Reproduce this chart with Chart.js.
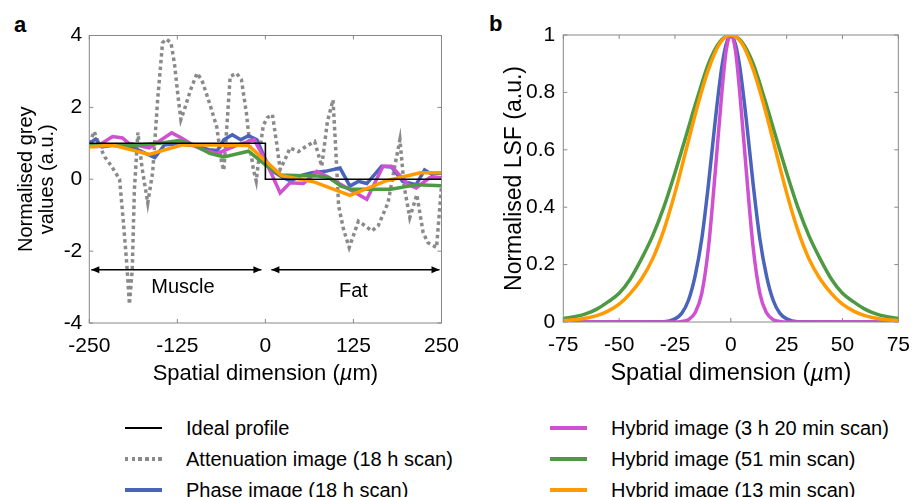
<!DOCTYPE html>
<html>
<head>
<meta charset="utf-8">
<script src="https://cdn.jsdelivr.net/npm/chart.js@4.4.0/dist/chart.umd.min.js"></script>
<style>
body { margin:0; width:921px; height:497px; overflow:hidden; background:#fff; position:relative;
  font-family:"Liberation Sans", Arial, sans-serif; color:#000; }
canvas { position:absolute; top:0; }
#ca { left:0; }
#cb { left:460px; }
.tag { position:absolute; font-weight:bold; font-size:22px; line-height:22px; }
.key { position:absolute; height:22px; line-height:22px; font-size:20px; white-space:nowrap; }
.key i { position:absolute; left:0; top:9px; width:37px; height:4px; }
.key span { position:absolute; left:61px; top:0; }
</style>
</head>
<body>
<div class="tag" style="left:14px;top:14px">a</div>
<div class="tag" style="left:489px;top:13px">b</div>
<canvas id="ca" width="470" height="395"></canvas>
<canvas id="cb" width="461" height="395"></canvas>
<div id="legend"></div>
<script>
// ---- panel a : profiles across the muscle / fat edge
const idealX = [-250, 0, 0, 250];
const idealY = [1, 1, 0, 0];

const attX = [-250, -243, -236, -228, -218, -207, -202, -197, -193, -189, -186, -181, -175, -167, -160, -153, -146, -141, -134, -129, -124, -120, -115, -106, -97, -90, -79, -69, -62, -59, -55, -50, -41, -34, -27, -22, -17, -13, -8, -3, 3, 10, 16, 21, 29, 35, 47, 58, 70, 80, 88, 96, 100, 104, 111, 119, 132, 142, 151, 160, 174, 184, 191, 197, 205, 215, 224, 231, 243, 250];
const attY = [1.0, 1.33, 0.95, 0.62, 0.35, 0.0, -1.1, -2.3, -3.48, -2.5, -0.3, 1.3, 0.3, -0.66, 0.2, 2.2, 3.8, 3.9, 3.8, 3.2, 2.3, 1.66, 1.94, 2.5, 2.95, 2.75, 2.1, 1.45, 0.45, 0.25, 1.38, 2.86, 2.95, 2.77, 1.85, 0.92, 0.27, -0.05, 0.8, 1.5, 1.72, 1.8, 1.0, 0.27, 0.6, 0.87, 0.77, 0.92, 1.05, 0.36, 1.6, 2.21, 0.8, -0.75, -1.4, -1.9, -1.17, -1.3, -1.44, -1.3, -0.66, 0.4, 1.1, -0.2, -1.07, -0.43, -1.49, -1.77, -1.9, -0.19];

const phaseX = [-250, -241, -232, -215, -200, -185, -157, -143, -120, -100, -80, -68, -59, -47, -35, -24, -12, 0, 12, 24, 36, 50, 66, 85, 106, 120, 132, 144, 165, 179, 195, 214, 226, 236, 250];
const phaseY = [1.0, 1.12, 0.9, 0.95, 0.92, 0.85, 0.6, 0.96, 0.98, 0.93, 0.82, 0.8, 1.1, 1.24, 1.1, 1.21, 1.1, 0.55, 0.2, 0.06, -0.05, 0.1, 0.18, 0.22, 0.31, -0.19, -0.06, -0.12, 0.36, 0.34, -0.06, -0.15, 0.26, 0.14, 0.17];

const hyb1X = [-250, -239, -217, -203, -194, -165, -133, -119, -100, -86, -68, -40, -16, -2, 7, 21, 35, 54, 73, 85, 144, 167, 179, 203, 214, 233, 250];
const hyb1Y = [0.92, 0.91, 1.19, 1.15, 1.0, 0.87, 1.29, 1.15, 0.92, 0.8, 0.72, 0.95, 1.1, 0.6, 0.22, -0.38, -0.1, -0.12, 0.22, 0.1, -0.56, 0.36, 0.36, -0.15, -0.24, 0.04, 0.04];

const hyb2X = [-250, -200, -180, -150, -123, -100, -79, -59, -24, 0, 21, 54, 75, 90, 108, 122, 178, 216, 250];
const hyb2Y = [0.95, 0.93, 0.95, 1.0, 1.08, 0.95, 0.72, 0.62, 0.78, 0.4, 0.12, 0.1, 0.09, 0.05, -0.2, -0.28, -0.28, -0.15, -0.18];

const hyb3X = [-250, -217, -165, -118, -71, -24, 23, 70, 120, 172, 220, 250];
const hyb3Y = [0.9, 0.95, 0.69, 0.96, 0.95, 0.94, 0.1, -0.08, -0.45, -0.04, 0.18, 0.18];

const regionNames = ['Muscle', 'Fat'];
const regionFrom = [-250, 0];
const regionTo = [0, 250];
const regionLabelX = [-117, 125];
const regionLabelY = [-3.02, -3.13];
const arrowLevel = -2.52;

// ---- panel b : line spread functions
const wideX = [-75, -70, -65, -60, -55, -50, -45, -40, -35, -30, -25, -20, -15, -10, -5, 0, 5, 10, 15, 20, 25, 30, 35, 40, 45, 50, 55, 60, 65, 70, 75];
const lsfHyb2 = [0.012, 0.018, 0.028, 0.045, 0.07, 0.1, 0.15, 0.22, 0.3, 0.4, 0.52, 0.65, 0.78, 0.9, 0.975, 1, 0.975, 0.9, 0.78, 0.65, 0.52, 0.4, 0.3, 0.22, 0.15, 0.1, 0.07, 0.045, 0.028, 0.018, 0.012];
const lsfHyb3 = [0.005, 0.008, 0.013, 0.022, 0.038, 0.062, 0.1, 0.15, 0.22, 0.32, 0.45, 0.6, 0.75, 0.88, 0.97, 1, 0.97, 0.88, 0.75, 0.6, 0.45, 0.32, 0.22, 0.15, 0.1, 0.062, 0.038, 0.022, 0.013, 0.008, 0.005];
const narrowX = [-75, -30, -25, -22, -19, -16, -13, -10, -7, -4, -2, 0, 2, 4, 7, 10, 13, 16, 19, 22, 25, 30, 75];
const lsfPhase = [0, 0.001, 0.011, 0.03, 0.075, 0.16, 0.29, 0.48, 0.7, 0.89, 0.97, 1, 0.97, 0.89, 0.7, 0.48, 0.29, 0.16, 0.075, 0.03, 0.011, 0.001, 0];
const lsfHyb1 = [0, 0, 0, 0.002, 0.008, 0.032, 0.1, 0.26, 0.52, 0.8, 0.95, 1, 0.95, 0.8, 0.52, 0.26, 0.1, 0.032, 0.008, 0.002, 0, 0, 0];

// ---- legend
const legendNames = ['Ideal profile', 'Attenuation image (18 h scan)', 'Phase image (18 h scan)',
  'Hybrid image (3 h 20 min scan)', 'Hybrid image (51 min scan)', 'Hybrid image (13 min scan)'];

const C = { ideal:'#000000', att:'#8a8a8a', phase:'#4a64bb', hyb1:'#cf50d0', hyb2:'#4d9a43', hyb3:'#ff9b00' };
const legendColors = [C.ideal, C.att, C.phase, C.hyb1, C.hyb2, C.hyb3];

const FONT = '"Liberation Sans", Arial, sans-serif';
Chart.defaults.font.family = FONT;
Chart.defaults.color = '#000';

function pts(xs, ys) { return xs.map((x, i) => ({ x: x, y: ys[i] })); }
function line(data, color, width, order, extra) {
  return Object.assign({ data: data, showLine: true, borderColor: color, borderWidth: width,
    pointRadius: 0, fill: false, order: order }, extra || {});
}

const framePlugin = {
  id: 'frame',
  beforeDatasetsDraw(chart) {
    const { ctx, chartArea: a, scales: { x, y } } = chart;
    ctx.save();
    ctx.strokeStyle = '#888';
    ctx.lineWidth = 1;
    ctx.strokeRect(a.left, a.top, a.right - a.left, a.bottom - a.top);
    ctx.beginPath();
    x.ticks.forEach(t => {
      const p = x.getPixelForValue(t.value);
      ctx.moveTo(p, a.bottom); ctx.lineTo(p, a.bottom - 4);
      ctx.moveTo(p, a.top); ctx.lineTo(p, a.top + 4);
    });
    y.ticks.forEach(t => {
      const p = y.getPixelForValue(t.value);
      ctx.moveTo(a.left, p); ctx.lineTo(a.left + 4, p);
      ctx.moveTo(a.right, p); ctx.lineTo(a.right - 4, p);
    });
    ctx.stroke();
    ctx.restore();
  },
  // x title with an italic mu, like the original figure
  afterDraw(chart, args, opts) {
    const { ctx, chartArea: a } = chart;
    const parts = ['Spatial dimension (', 'µ', 'm)'];
    const fonts = [opts.size + 'px ' + FONT, 'italic ' + opts.size + 'px ' + FONT, opts.size + 'px ' + FONT];
    ctx.save();
    ctx.fillStyle = '#000'; ctx.textBaseline = 'middle'; ctx.textAlign = 'left';
    const w = parts.map((p, i) => { ctx.font = fonts[i]; return ctx.measureText(p).width; });
    let px = (a.left + a.right) / 2 - (w[0] + w[1] + w[2]) / 2;
    parts.forEach((p, i) => { ctx.font = fonts[i]; ctx.fillText(p, px, a.bottom + opts.gap); px += w[i]; });
    ctx.restore();
  }
};

const regionPlugin = {
  id: 'regions',
  afterDatasetsDraw(chart) {
    const { ctx, scales: { x, y } } = chart;
    const py = y.getPixelForValue(arrowLevel);
    ctx.save();
    ctx.strokeStyle = '#000'; ctx.fillStyle = '#000'; ctx.lineWidth = 1.5;
    regionNames.forEach((name, i) => {
      const x1 = x.getPixelForValue(regionFrom[i]) + 2;
      const x2 = x.getPixelForValue(regionTo[i]) - (i === 0 ? 4 : 2);
      const a1 = i === 0 ? x1 : x1 + 4;
      ctx.beginPath(); ctx.moveTo(a1, py); ctx.lineTo(x2, py); ctx.stroke();
      [[a1, 1], [x2, -1]].forEach(([ax, d]) => {
        ctx.beginPath(); ctx.moveTo(ax, py); ctx.lineTo(ax + d * 8, py - 3.5);
        ctx.lineTo(ax + d * 8, py + 3.5); ctx.closePath(); ctx.fill();
      });
      ctx.font = '20px ' + FONT;
      ctx.textAlign = 'center'; ctx.textBaseline = 'middle';
      ctx.fillText(name, x.getPixelForValue(regionLabelX[i]), y.getPixelForValue(regionLabelY[i]));
    });
    ctx.restore();
  }
};

function axisOpts(min, max, step, pad, size, fit) {
  return { type: 'linear', min: min, max: max,
    ticks: { stepSize: step, padding: pad, maxRotation: 0, color: '#000', font: { size: size },
      callback: v => String(parseFloat(v.toFixed(2))) },
    grid: { display: false, drawTicks: false }, border: { display: false }, afterFit: fit };
}

// panel a
const ax = axisOpts(-250, 250, 125, 11, 21, s => { s.height = 72; });
const ay = axisOpts(-4, 4, 2, 7, 21, s => { s.width = 89.3; });
ay.title = { display: true, text: ['Normalised grey', 'values (a.u.)'], color: '#000', font: { size: 20, lineHeight: 1.05 }, padding: { top: 15.5, bottom: 0 } };

new Chart(document.getElementById('ca'), {
  type: 'scatter',
  data: { datasets: [
    line(pts(idealX, idealY), C.ideal, 1.6, 0),
    line(pts(hyb3X, hyb3Y), C.hyb3, 3.5, 1),
    line(pts(hyb2X, hyb2Y), C.hyb2, 3.5, 2),
    line(pts(hyb1X, hyb1Y), C.hyb1, 3.5, 3),
    line(pts(phaseX, phaseY), C.phase, 3.5, 4),
    line(pts(attX, attY), C.att, 3.5, 5, { borderDash: [3.5, 3.2] })
  ] },
  options: {
    responsive: false, animation: false,
    layout: { padding: { top: 35.5, right: 26.7, left: 0, bottom: 0 } },
    plugins: { legend: { display: false }, tooltip: { enabled: false }, frame: { size: 22, gap: 51 } },
    scales: { x: ax, y: ay }
  },
  plugins: [framePlugin, regionPlugin]
});

// panel b
const bx = axisOpts(-75, 75, 25, 11, 21, s => { s.height = 73; });
const by = axisOpts(0, 1, 0.2, 8, 21, s => { s.width = 103.3; });
by.title = { display: true, text: 'Normalised LSF (a.u.)', color: '#000', font: { size: 23, lineHeight: 1.2 }, padding: { top: 41, bottom: 0 } };

const smooth = { cubicInterpolationMode: 'monotone' };
new Chart(document.getElementById('cb'), {
  type: 'scatter',
  data: { datasets: [
    line(pts(wideX, lsfHyb3), C.hyb3, 3.5, 1, smooth),
    line(pts(narrowX, lsfHyb1), C.hyb1, 3.5, 2, smooth),
    line(pts(wideX, lsfHyb2), C.hyb2, 3.5, 3, smooth),
    line(pts(narrowX, lsfPhase), C.phase, 3.5, 4, smooth)
  ] },
  options: {
    responsive: false, animation: false,
    layout: { padding: { top: 35, right: 13, left: 0, bottom: 0 } },
    plugins: { legend: { display: false }, tooltip: { enabled: false }, frame: { size: 23.5, gap: 52 } },
    scales: { x: bx, y: by }
  },
  plugins: [framePlugin]
});

// legend below the panels
const legend = document.getElementById('legend');
const colLeft = [125, 550];
const rowTop = [417, 448, 479];
legendNames.forEach((name, i) => {
  const d = document.createElement('div');
  d.className = 'key';
  d.style.left = colLeft[Math.floor(i / 3)] + 'px';
  d.style.top = rowTop[i % 3] + 'px';
  const mark = document.createElement('i');
  if (i === 0) { mark.style.height = '1.6px'; mark.style.top = '10px'; mark.style.background = legendColors[i]; }
  else if (i === 1) { mark.style.background = 'repeating-linear-gradient(90deg,' + legendColors[i] + ' 0 3.5px, transparent 3.5px 6.7px)'; }
  else { mark.style.background = legendColors[i]; }
  const label = document.createElement('span');
  label.textContent = name;
  d.appendChild(mark); d.appendChild(label);
  legend.appendChild(d);
});
</script>
</body>
</html>
